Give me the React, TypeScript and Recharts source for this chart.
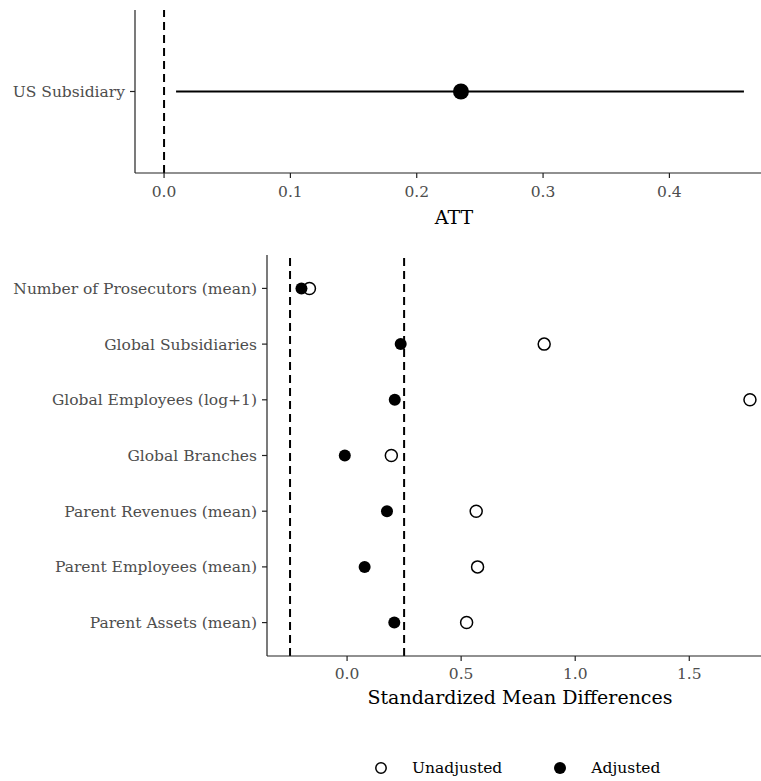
import { ScatterChart, Scatter, XAxis, YAxis, ReferenceLine, Legend } from "recharts";

// Treatment effect (ATT) with its confidence interval
const attLabel = "US Subsidiary";
const attEstimate = 0.235;
const attLower = 0.0095;
const attUpper = 0.459;
const attTicks = [0, 0.1, 0.2, 0.3, 0.4];

// Covariate balance, listed from the bottom row up
const covariates = [
  "Parent Assets (mean)",
  "Parent Employees (mean)",
  "Parent Revenues (mean)",
  "Global Branches",
  "Global Employees (log+1)",
  "Global Subsidiaries",
  "Number of Prosecutors (mean)",
];
const unadjusted = [0.524, 0.572, 0.566, 0.194, 1.766, 0.864, -0.165];
const adjusted = [0.207, 0.077, 0.175, -0.01, 0.209, 0.235, -0.2];
const balanceThreshold = 0.25;
const smdTicks = [0, 0.5, 1, 1.5];

const FONT = "'DejaVu Serif', serif";
const TICK_GREY = "#4D4D4D";
const AXIS = "#222";

const rowIndex = covariates.map((_, i) => i + 1);
const unadjustedData = covariates.map((name, i) => ({ name, x: unadjusted[i], y: i + 1 }));
const adjustedData = covariates.map((name, i) => ({ name, x: adjusted[i], y: i + 1 }));
const attPoint = [{ x: attEstimate, y: 1 }];
const attInterval = [
  { x: attLower, y: 1 },
  { x: attUpper, y: 1 },
];

const fmt1 = (v: number) => v.toFixed(1);

const tickStyle = { fill: TICK_GREY, fontSize: 15.5, fontFamily: FONT };
const axisLine = { stroke: AXIS, strokeWidth: 1.2 };
const tickLine = { stroke: AXIS, strokeWidth: 1.2 };

const Dot = (r: number, filled: boolean) => (props: any) => {
  const { cx, cy } = props;
  if (cx == null || cy == null) return <g />;
  return (
    <circle
      cx={cx}
      cy={cy}
      r={r}
      fill={filled ? "#000" : "#fff"}
      stroke="#000"
      strokeWidth={filled ? 0 : 1.5}
    />
  );
};

const legendOrder = ["Unadjusted", "Adjusted"];

const BalanceLegend = (props: any) => {
  const items = (props.payload || [])
    .slice()
    .sort((a: any, b: any) => legendOrder.indexOf(a.value) - legendOrder.indexOf(b.value));
  return (
    <div
      style={{
        display: "flex",
        alignItems: "center",
        height: 26,
        paddingLeft: 374,
        fontFamily: FONT,
        fontSize: 15.5,
        color: "#000",
      }}
    >
      {items.map((entry: any) => {
        const filled = entry.value === "Adjusted";
        return (
          <span key={entry.value} style={{ display: "flex", alignItems: "center", marginRight: 51 }}>
            <svg width={14} height={14} style={{ marginRight: 24 }}>
              <circle
                cx={7}
                cy={7}
                r={filled ? 6 : 5.2}
                fill={filled ? "#000" : "#fff"}
                stroke="#000"
                strokeWidth={filled ? 0 : 1.5}
              />
            </svg>
            <span>{entry.value}</span>
          </span>
        );
      })}
    </div>
  );
};

export default function App() {
  return (
    <div
      style={{
        position: "absolute",
        left: 0,
        top: 0,
        width: 761,
        height: 781,
        overflow: "hidden",
        background: "#fff",
      }}
    >
      <div style={{ position: "absolute", left: 0, top: 0 }}>
        <ScatterChart width={773} height={240} margin={{ top: 10, right: 0, bottom: 0, left: 0 }}>
          <XAxis
            type="number"
            dataKey="x"
            domain={[-0.023, 0.482]}
            allowDataOverflow
            ticks={attTicks}
            tickFormatter={fmt1}
            tick={tickStyle}
            tickSize={5}
            tickMargin={8}
            axisLine={axisLine}
            tickLine={tickLine}
            height={67}
            label={{
              value: "ATT",
              position: "insideBottom",
              offset: 16,
              fill: "#000",
              fontSize: 19,
              fontFamily: FONT,
            }}
          />
          <YAxis
            type="number"
            dataKey="y"
            domain={[0.4, 1.6]}
            ticks={[1]}
            tickFormatter={() => attLabel}
            tick={tickStyle}
            tickSize={5}
            tickMargin={5}
            axisLine={axisLine}
            tickLine={tickLine}
            width={135}
          />
          <ReferenceLine x={0} stroke="#000" strokeWidth={2} strokeDasharray="8 5" />
          <Scatter
            data={attInterval}
            line={{ stroke: "#000", strokeWidth: 2 }}
            shape={() => <g />}
            isAnimationActive={false}
          />
          <Scatter data={attPoint} shape={Dot(8, true)} isAnimationActive={false} />
        </ScatterChart>
      </div>
      <div style={{ position: "absolute", left: 0, top: 240 }}>
        <ScatterChart width={773} height={541} margin={{ top: 15, right: 0, bottom: 0, left: 0 }}>
          <XAxis
            type="number"
            dataKey="x"
            domain={[-0.351, 1.867]}
            allowDataOverflow
            ticks={smdTicks}
            tickFormatter={fmt1}
            tick={tickStyle}
            tickSize={5}
            tickMargin={7}
            axisLine={axisLine}
            tickLine={tickLine}
            height={99}
            label={{
              value: "Standardized Mean Differences",
              position: "insideTop",
              offset: 35,
              fill: "#000",
              fontSize: 19,
              fontFamily: FONT,
            }}
          />
          <YAxis
            type="number"
            dataKey="y"
            domain={[0.4, covariates.length + 0.6]}
            ticks={rowIndex}
            tickFormatter={(v: number) => covariates[v - 1]}
            tick={tickStyle}
            tickSize={5}
            tickMargin={5}
            axisLine={axisLine}
            tickLine={tickLine}
            width={267}
          />
          <ReferenceLine x={-balanceThreshold} stroke="#000" strokeWidth={2} strokeDasharray="8 5" />
          <ReferenceLine x={balanceThreshold} stroke="#000" strokeWidth={2} strokeDasharray="8 5" />
          <Scatter
            name="Unadjusted"
            data={unadjustedData}
            fill="#fff"
            shape={Dot(6, false)}
            isAnimationActive={false}
          />
          <Scatter
            name="Adjusted"
            data={adjustedData}
            fill="#000"
            shape={Dot(6, true)}
            isAnimationActive={false}
          />
          <Legend verticalAlign="bottom" height={26} content={BalanceLegend} />
        </ScatterChart>
      </div>
    </div>
  );
}
